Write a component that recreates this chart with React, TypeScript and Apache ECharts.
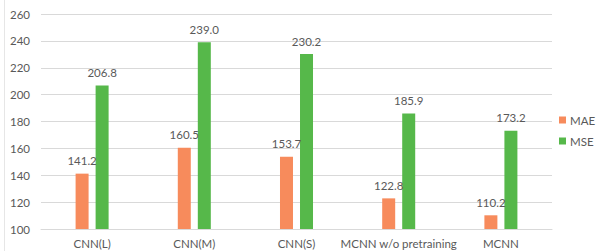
import React, { useEffect, useRef } from "react";
import * as echarts from "echarts";

const categories = ["CNN(L)", "CNN(M)", "CNN(S)", "MCNN w/o pretraining", "MCNN"];
const maeValues = [141.2, 160.5, 153.7, 122.8, 110.2];
const mseValues = [206.8, 239.0, 230.2, 185.9, 173.2];

const FONT = "Lato, 'Noto Sans', sans-serif";
const TEXT = "#595959";

export default function App() {
  const ref = useRef<HTMLDivElement>(null);
  useEffect(() => {
    if (!ref.current) return;
    const chart = echarts.init(ref.current, undefined, { renderer: "svg" });
    const label = {
      show: true,
      position: "top" as const,
      distance: 7,
      color: TEXT,
      fontSize: 11.5,
      fontFamily: FONT,
      formatter: (p: any) => Number(p.value).toFixed(1),
    };
    chart.setOption({
      animation: false,
      backgroundColor: "#ffffff",
      textStyle: { fontFamily: FONT },
      grid: { left: 41, right: 45, top: 14, bottom: 22, containLabel: false },
      legend: {
        orient: "vertical",
        left: 559,
        top: 114,
        padding: 0,
        itemWidth: 7,
        itemHeight: 7,
        itemGap: 9,
        icon: "rect",
        textStyle: { color: TEXT, fontSize: 11.5, fontFamily: FONT, padding: [0, 0, 0, -1] },
        data: ["MAE", "MSE"],
      },
      xAxis: {
        type: "category",
        data: categories,
        axisLine: { lineStyle: { color: "#d9d9d9" } },
        axisTick: { show: false },
        axisLabel: { color: TEXT, fontSize: 11.5, fontFamily: FONT, margin: 8, interval: 0 },
      },
      yAxis: {
        type: "value",
        min: 100,
        max: 260,
        interval: 20,
        axisLine: { show: false },
        axisTick: { show: false },
        axisLabel: { color: TEXT, fontSize: 11.5, fontFamily: FONT, margin: 11 },
        splitLine: { lineStyle: { color: "#d9d9d9" } },
      },
      series: [
        {
          name: "MAE",
          type: "bar",
          data: maeValues,
          barWidth: 13,
          barGap: "54%",
          itemStyle: { color: "#F78B5C" },
          label,
        },
        {
          name: "MSE",
          type: "bar",
          data: mseValues,
          barWidth: 13,
          itemStyle: { color: "#56B84A" },
          label,
        },
      ],
      graphic: [
        {
          type: "line",
          shape: { x1: 4.5, y1: 0, x2: 4.5, y2: 251 },
          style: { stroke: "#e6e6e6", lineWidth: 1 },
        },
      ],
    });
    return () => chart.dispose();
  }, []);
  return (
    <div
      ref={ref}
      style={{ position: "fixed", left: 0, top: 0, width: 597, height: 251 }}
    />
  );
}
